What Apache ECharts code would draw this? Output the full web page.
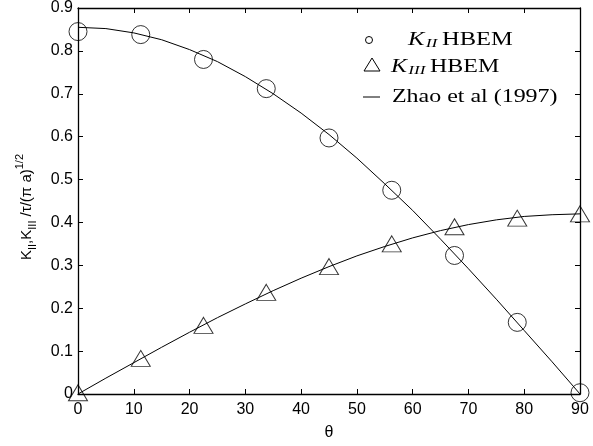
<!DOCTYPE html>
<html><head><meta charset="utf-8">
<script src="https://cdn.jsdelivr.net/npm/echarts@6/dist/echarts.min.js"></script>
<style>html,body{margin:0;padding:0;background:#fff}#c{width:593px;height:446px}</style>
</head><body><div id="c"></div>
<script>
const thetaPts = [0, 11.25, 22.5, 33.75, 45, 56.25, 67.5, 78.75, 90];
const kIIHbem = [0.845, 0.838, 0.780, 0.712, 0.597, 0.475, 0.323, 0.167, 0.003];
const kIIIHbem = [0.003, 0.083, 0.160, 0.237, 0.297, 0.350, 0.390, 0.410, 0.420];
const thetaLine = [0,5,10,15,20,25,30,35,40,45,50,55,60,65,70,75,80,85,90];
const kIIZhao = [0.855,0.852,0.842,0.826,0.803,0.775,0.740,0.700,0.655,0.605,0.550,0.490,0.428,0.361,0.292,0.221,0.148,0.075,0.0];
const kIIIZhao = [0,0.037,0.073,0.109,0.144,0.178,0.210,0.241,0.270,0.297,0.322,0.344,0.364,0.381,0.395,0.406,0.414,0.418,0.420];
const xTicks = [0,10,20,30,40,50,60,70,80,90];
const yTicks = [0,0.1,0.2,0.3,0.4,0.5,0.6,0.7,0.8,0.9];

const zip = (a,b)=>a.map((v,i)=>[v,b[i]]);
const TRI = 'path://M0,-1 L1,0.75 L-1,0.75 Z';
const F = 'Liberation Sans, Arial, sans-serif';
const SF = 'Liberation Serif, serif';
const axCommon = {
  axisLine:{show:true,onZero:false,lineStyle:{color:'#000',width:1.3}},
  axisTick:{show:true,inside:true,length:5,lineStyle:{color:'#000'}},
  splitLine:{show:false}
};
const legRich = {
  k:{fontFamily:SF,fontStyle:'italic',fontSize:18,fill:'#000'},
  s:{fontFamily:SF,fontStyle:'italic',fontSize:13,fill:'#000',padding:[7,0,0,1]},
  t:{fontFamily:SF,fontSize:18,fill:'#000'}
};
const chart = echarts.init(document.getElementById('c'));
chart.setOption({
  animation:false,
  backgroundColor:'#fff',
  grid:{left:78,right:13,top:7,bottom:47,containLabel:false},
  xAxis:[
    Object.assign({type:'value',min:0,max:90,interval:10,position:'bottom',
      name:'θ',nameLocation:'middle',nameGap:31,nameTextStyle:{fontFamily:F,fontSize:16,color:'#000'},
      axisLabel:{fontFamily:F,fontSize:16,color:'#000',margin:8,formatter:v=>xTicks.includes(v)?String(v):''}},axCommon),
    Object.assign({type:'value',min:0,max:90,interval:10,position:'top',axisLabel:{show:false}},axCommon)
  ],
  yAxis:[
    Object.assign({type:'value',min:0,max:0.9,interval:0.1,position:'left',
      name:'{a|K}{s|II}{a|,K}{s|III}{a| /τ/(π a)}{p|1/2}',nameLocation:'middle',nameGap:44,
      nameTextStyle:{padding:[0,12,0,0],rich:{
        a:{fontFamily:F,fontSize:15,color:'#000',verticalAlign:'bottom'},
        s:{fontFamily:F,fontSize:11,color:'#000',verticalAlign:'bottom',padding:[0,0,-4,0]},
        p:{fontFamily:F,fontSize:11,color:'#000',verticalAlign:'top',padding:[0,0,9,0]}}},
      axisLabel:{fontFamily:F,fontSize:16,color:'#000',margin:5,
        formatter:v=>{const t=yTicks.find(x=>Math.abs(x-v)<1e-9);return t===undefined?'':(t===0?'0':t.toFixed(1));}}},axCommon),
    Object.assign({type:'value',min:0,max:0.9,interval:0.1,position:'right',axisLabel:{show:false}},axCommon)
  ],
  series:[
    {type:'line',name:'Zhao II',data:zip(thetaLine,kIIZhao),showSymbol:false,symbol:'none',lineStyle:{color:'#000',width:1},z:2},
    {type:'line',name:'Zhao III',data:zip(thetaLine,kIIIZhao),showSymbol:false,symbol:'none',lineStyle:{color:'#000',width:1},z:2},
    {type:'scatter',name:'KII HBEM',data:zip(thetaPts,kIIHbem),symbol:'circle',symbolSize:18,
      itemStyle:{color:'rgba(0,0,0,0)',borderColor:'#000',borderWidth:1},z:3},
    {type:'scatter',name:'KIII HBEM',data:zip(thetaPts,kIIIHbem),symbol:TRI,symbolSize:[19,16],symbolKeepAspect:false,
      itemStyle:{color:'rgba(0,0,0,0)',borderColor:'#000',borderWidth:1},z:3}
  ],
  graphic:[
    {type:'circle',shape:{cx:369,cy:40,r:3.5},style:{fill:'none',stroke:'#000',lineWidth:1}},
    {type:'text',x:408,y:30,scaleX:1.36,style:{rich:legRich,text:'{k|K}{s|II} {t|HBEM}'}},
    {type:'polygon',shape:{points:[[372,58],[380,71],[364,71]]},style:{fill:'none',stroke:'#000',lineWidth:1}},
    {type:'text',x:391,y:57,scaleX:1.33,style:{rich:legRich,text:'{k|K}{s|III} {t|HBEM}'}},
    {type:'line',shape:{x1:363,y1:97,x2:380,y2:97},style:{stroke:'#000',lineWidth:1}},
    {type:'text',x:392,y:88,scaleX:1.33,style:{text:'Zhao et al (1997)',fontFamily:SF,fontSize:18,fill:'#000'}}
  ]
});
</script></body></html>
